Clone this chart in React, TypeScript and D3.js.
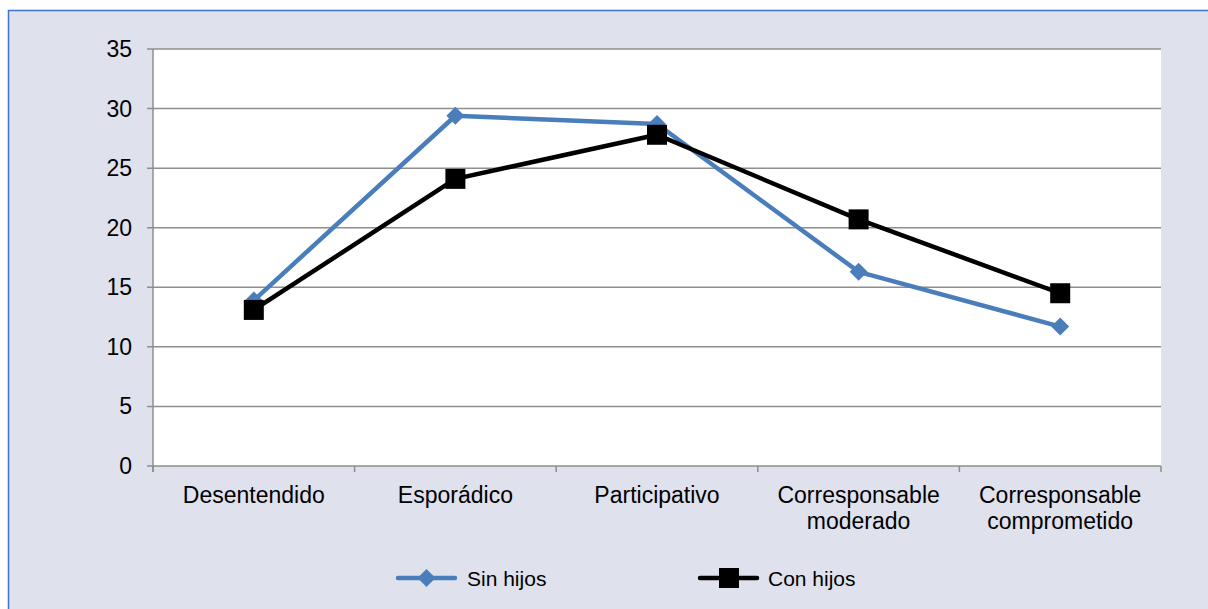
import React from "react";
import * as d3 from "d3";

const categories = [
  "Desentendido",
  "Esporádico",
  "Participativo",
  "Corresponsable moderado",
  "Corresponsable comprometido",
];
const sinHijos = [13.9, 29.4, 28.7, 16.3, 11.7];
const conHijos = [13.1, 24.1, 27.8, 20.7, 14.5];
const yTicks = [0, 5, 10, 15, 20, 25, 30, 35];

const W = 1208;
const H = 609;
const plot = { left: 153, right: 1161, top: 49, bottom: 466 };
const FONT = "'Liberation Sans', Arial, Helvetica, sans-serif";
const BLUE = "#4A7EBB";
const GRID = "#8E8E8E";

export default function App() {
  const x = d3
    .scaleBand<string>()
    .domain(categories)
    .range([plot.left, plot.right])
    .padding(0);
  const y = d3.scaleLinear().domain([0, 35]).range([plot.bottom, plot.top]);
  const cx = (c: string) => (x(c) as number) + x.bandwidth() / 2;

  const line = d3
    .line<number>()
    .x((_, i) => cx(categories[i]))
    .y((v) => y(v));

  const boundaries = categories.map((c) => x(c) as number).concat([plot.right]);

  const diamond = (px: number, py: number, r: number) =>
    `M${px},${py - r}L${px + r},${py}L${px},${py + r}L${px - r},${py}Z`;

  return (
    <svg
      width={W}
      height={H}
      style={{ position: "absolute", left: 0, top: 0, fontFamily: FONT }}
    >
      <rect x={0} y={0} width={W} height={H} fill="#ffffff" />
      <rect
        x={8.5}
        y={10.5}
        width={W + 10}
        height={H + 10}
        fill="#DFE1EC"
        stroke="#4472C4"
        strokeWidth={1.5}
      />
      <rect
        x={plot.left}
        y={plot.top}
        width={plot.right - plot.left}
        height={plot.bottom - plot.top}
        fill="#ffffff"
      />
      {yTicks.map((t) => (
        <g key={t}>
          <line
            x1={plot.left - 6}
            x2={plot.right}
            y1={y(t)}
            y2={y(t)}
            stroke={GRID}
            strokeWidth={1.5}
          />
          <text
            x={132}
            y={y(t) + 8}
            textAnchor="end"
            fontSize={23}
            fill="#000"
          >
            {t}
          </text>
        </g>
      ))}
      <line
        x1={plot.left}
        x2={plot.left}
        y1={plot.top}
        y2={plot.bottom + 6}
        stroke={GRID}
        strokeWidth={1.5}
      />
      {boundaries.map((b, i) => (
        <line
          key={i}
          x1={b}
          x2={b}
          y1={plot.bottom}
          y2={plot.bottom + 6}
          stroke={GRID}
          strokeWidth={1.5}
        />
      ))}
      {categories.map((c) => (
        <text key={c} textAnchor="middle" fontSize={23} fill="#000">
          {c.split(" ").map((w, i) => (
            <tspan key={i} x={cx(c)} y={503 + i * 26}>
              {w}
            </tspan>
          ))}
        </text>
      ))}

      <path
        d={line(sinHijos) || ""}
        fill="none"
        stroke={BLUE}
        strokeWidth={4.5}
        strokeLinejoin="round"
      />
      {sinHijos.map((v, i) => (
        <path key={i} d={diamond(cx(categories[i]), y(v), 9)} fill={BLUE} />
      ))}
      <path
        d={line(conHijos) || ""}
        fill="none"
        stroke="#000"
        strokeWidth={4.5}
        strokeLinejoin="round"
      />
      {conHijos.map((v, i) => (
        <rect
          key={i}
          x={cx(categories[i]) - 10}
          y={y(v) - 10}
          width={20}
          height={20}
          fill="#000"
        />
      ))}

      {/* legend */}
      <g>
        <line
          x1={398}
          x2={455}
          y1={578}
          y2={578}
          stroke={BLUE}
          strokeWidth={4.5}
          strokeLinecap="round"
        />
        <path d={diamond(426.5, 578, 9)} fill={BLUE} />
        <text x={467} y={586} fontSize={21} fill="#000">
          Sin hijos
        </text>
        <line
          x1={700}
          x2={757}
          y1={578}
          y2={578}
          stroke="#000"
          strokeWidth={4.5}
          strokeLinecap="round"
        />
        <rect x={719} y={568} width={20} height={20} fill="#000" />
        <text x={768} y={586} fontSize={21} fill="#000">
          Con hijos
        </text>
      </g>
    </svg>
  );
}
